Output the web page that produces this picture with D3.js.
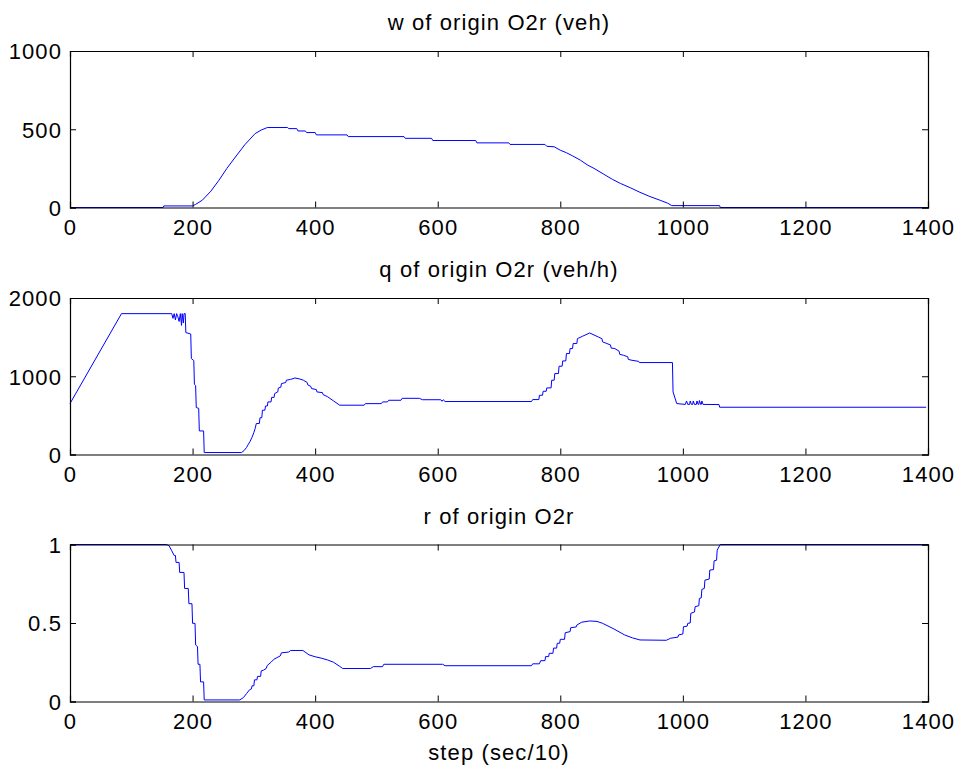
<!DOCTYPE html>
<html>
<head>
<meta charset="utf-8">
<script src="https://cdn.jsdelivr.net/npm/d3@7/dist/d3.min.js"></script>
<style>
  html, body { margin: 0; padding: 0; background: #fff; }
  svg text { font-family: "Liberation Sans", Arial, Helvetica, sans-serif; font-size: 22px; letter-spacing: 1.1px; fill: #000; }
</style>
</head>
<body>
<svg id="chart" width="962" height="776"></svg>
<script>
// ---- data (step, value) ----
const wSeries = [
  [0,0],[152,0],[153,10],[200,10],[205,20],[216,47],[230,105],[243,174],[256,250],[270,323],
  [285,400],[302,472],[312,495],[322,511],[355,511],[357,504],[370,504],[372,489],[384,489],
  [386,479],[400,479],[402,464],[452,464],[454,453],[545,453],[547,442],[590,442],[592,428],
  [662,428],[664,413],[716,413],[718,403],[775,403],[778,391],[790,388],[800,366],[810,350],
  [820,330],[833,302],[845,270],[855,250],[870,215],[885,180],[898,154],[915,125],[930,97],
  [945,72],[963,46],[975,28],[982,12],[1060,12],[1061,0],[1400,0]
];
const qSeries = [
  [0,651],[84,1800],[166,1800],[168,1740],[170,1800],[172,1720],[174,1800],[176,1760],[178,1700],
  [180,1800],[182,1650],[183,1800],[185,1680],[186,1800],[188,1800],[189,1558],[197,1540],
  [198,1226],[202,1200],[203,898],[205,880],[206,600],[210,590],[211,301],[218,301],[219,25],
  [280,25],[284,50],[288,90],[291,130],[294,170],[297,220],[300,280],[302,330],[304,396],
  [309,396],[310,470],[313,470],[314,566],[318,566],[319,620],[322,620],[323,672],[328,672],
  [329,730],[333,730],[334,779],[339,800],[340,850],[344,860],[345,906],[352,920],[353,949],
  [360,960],[367,978],[375,965],[381,949],[387,920],[388,890],[393,870],[394,843],[402,830],
  [403,800],[412,790],[413,765],[420,740],[430,685],[440,630],[480,630],[482,650],[508,650],
  [510,672],[518,672],[520,693],[540,693],[542,718],[570,718],[575,700],[605,700],[607,680],
  [609,700],[612,677],[753,677],[755,702],[765,702],[766,757],[771,757],[772,808],[777,808],
  [778,851],[785,851],[786,949],[790,949],[791,1034],[797,1034],[798,1128],[803,1128],
  [804,1196],[809,1196],[810,1290],[815,1290],[816,1354],[820,1354],[821,1418],[827,1418],
  [828,1481],[836,1510],[848,1553],[862,1502],[868,1480],[869,1440],[876,1418],[882,1400],
  [883,1360],[889,1354],[896,1320],[897,1280],[903,1268],[910,1250],[911,1215],[917,1204],
  [928,1190],[929,1175],[983,1175],[984,800],[990,651],[1004,640],[1006,684],[1008,640],
  [1011,640],[1012,684],[1014,640],[1016,640],[1017,684],[1019,640],[1022,640],[1023,684],
  [1025,640],[1026,640],[1027,690],[1029,640],[1030,640],[1031,684],[1033,640],[1059,638],
  [1060,604],[1397,604]
];
const rSeries = [
  [0,1],[158,1],[162,0.99],[166,0.96],[170,0.93],[172,0.93],[173,0.886],[178,0.886],
  [179,0.822],[186,0.822],[187,0.72],[193,0.72],[194,0.623],[199,0.623],[200,0.498],
  [204,0.498],[205,0.36],[208,0.35],[209,0.237],[212,0.237],[213,0.125],[218,0.125],
  [219,0.01],[277,0.01],[283,0.025],[288,0.05],[293,0.075],[296,0.08],[297,0.1],[300,0.1],
  [301,0.138],[305,0.138],[306,0.16],[311,0.16],[312,0.195],[316,0.2],[320,0.21],[322,0.23],
  [328,0.25],[333,0.27],[338,0.28],[343,0.29],[345,0.31],[357,0.315],[360,0.325],[380,0.325],
  [390,0.297],[400,0.285],[410,0.276],[420,0.265],[430,0.25],[440,0.224],[445,0.21],
  [490,0.21],[495,0.222],[510,0.222],[512,0.237],[608,0.237],[612,0.228],[753,0.228],
  [755,0.24],[766,0.24],[768,0.26],[775,0.26],[776,0.286],[781,0.286],[782,0.307],[788,0.307],
  [789,0.34],[794,0.34],[795,0.371],[799,0.371],[800,0.396],[807,0.396],[808,0.438],[816,0.445],
  [817,0.47],[826,0.475],[827,0.487],[835,0.505],[848,0.513],[860,0.51],[869,0.498],
  [886,0.465],[905,0.424],[918,0.405],[930,0.392],[973,0.39],[980,0.403],[992,0.41],
  [993,0.424],[1000,0.43],[1001,0.476],[1007,0.48],[1008,0.498],[1012,0.5],[1013,0.562],
  [1019,0.57],[1020,0.604],[1026,0.61],[1027,0.657],[1030,0.66],[1031,0.714],[1035,0.72],
  [1036,0.773],[1043,0.78],[1044,0.837],[1050,0.84],[1051,0.896],[1055,0.9],[1056,0.964],
  [1061,1],[1400,1]
];

const xTicks = [0, 200, 400, 600, 800, 1000, 1200, 1400];
const wTicks = [0, 500, 1000];
const qTicks = [0, 1000, 2000];
const rTicks = [0, 0.5, 1];

const titles = ["w of origin O2r (veh)", "q of origin O2r (veh/h)", "r of origin O2r"];
const xLabel = "step (sec/10)";

// ---- layout ----
const svg = d3.select("#chart");
const left = 70, right = 928;
const panels = [
  { top: 51,  bottom: 207.5, data: wSeries, domain: [0, 1000], ticks: wTicks, fmt: d => String(d), title: titles[0] },
  { top: 298, bottom: 454.5, data: qSeries, domain: [0, 2000], ticks: qTicks, fmt: d => String(d), title: titles[1] },
  { top: 544.5, bottom: 701.5, data: rSeries, domain: [0, 1], ticks: rTicks, fmt: d => String(d), title: titles[2] }
];

const x = d3.scaleLinear().domain([0, 1400]).range([left, right]);
const tickLen = 6;

panels.forEach((p, i) => {
  const y = d3.scaleLinear().domain(p.domain).range([p.bottom, p.top]);
  const g = svg.append("g");

  // line
  g.append("path")
    .datum(p.data)
    .attr("fill", "none")
    .attr("stroke", "#0000ff")
    .attr("stroke-width", 1)
    .attr("d", d3.line().x(d => x(d[0])).y(d => y(d[1])));

  // bottom axis (ticks inward)
  const xb = g.append("g").attr("transform", `translate(0,${p.bottom})`)
    .call(d3.axisBottom(x).tickValues(xTicks).tickSize(-tickLen).tickPadding(12).tickFormat(d => String(d)));
  const xt = g.append("g").attr("transform", `translate(0,${p.top})`)
    .call(d3.axisTop(x).tickValues(xTicks).tickSize(-tickLen).tickFormat(""));
  const yl = g.append("g").attr("transform", `translate(${left},0)`)
    .call(d3.axisLeft(y).tickValues(p.ticks).tickSize(-tickLen).tickPadding(8).tickFormat(p.fmt));
  const yr = g.append("g").attr("transform", `translate(${right},0)`)
    .call(d3.axisRight(y).tickValues(p.ticks).tickSize(-tickLen).tickFormat(""));

  [xb, xt, yl, yr].forEach(a => {
    a.select(".domain").attr("stroke", "#000").attr("stroke-width", 1.2);
    a.selectAll(".tick line").attr("stroke", "#000").attr("stroke-width", 1);
    a.selectAll("text").attr("font-family", "Liberation Sans, Arial, sans-serif").attr("font-size", 22).attr("fill", "#000");
  });
  // remove outer ticks drawn by domain path (tickSizeOuter)
  [xb, xt, yl, yr].forEach(a => a.select(".domain").attr("d", function() {
    return d3.select(this).attr("d").replace(/V-?[\d.]+/g, m => m).toString();
  }));
  xb.selectAll("text").attr("dy", "0.71em");
  yl.selectAll("text").attr("dy", "0.36em").attr("x", -8);

  // title
  svg.append("text")
    .attr("x", (left + right) / 2)
    .attr("y", p.top - 21)
    .attr("text-anchor", "middle")
    .text(p.title);
});

// x label
svg.append("text")
  .attr("x", (left + right) / 2)
  .attr("y", 760)
  .attr("text-anchor", "middle")
  .text(xLabel);
</script>
</body>
</html>
